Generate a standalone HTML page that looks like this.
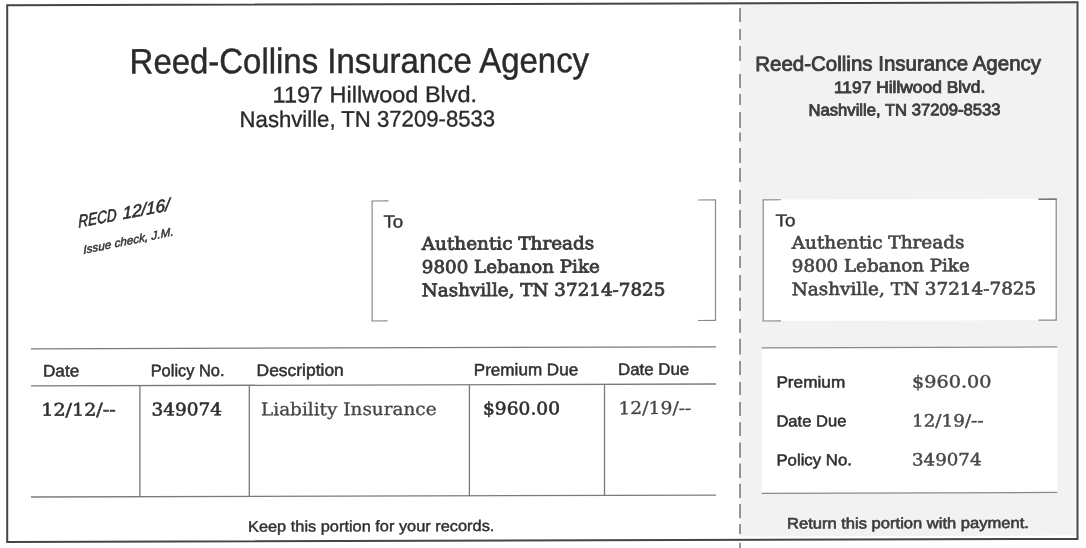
<!DOCTYPE html>
<html lang="en">
<head>
<meta charset="utf-8">
<title>Reed-Collins Insurance Agency - Premium Notice</title>
<style>
html,body{margin:0;padding:0;background:#fff;}
body{width:1086px;height:548px;overflow:hidden;}
svg{display:block;}
text{white-space:pre;}
</style>
</head>
<body>
<svg width="1086" height="548" viewBox="0 0 1086 548">
<rect x="0" y="0" width="1086" height="548" fill="#ffffff"/>
<defs><filter id="scan" x="0" y="0" width="1086" height="548" filterUnits="userSpaceOnUse"><feGaussianBlur stdDeviation="0.45"/></filter></defs>
<g filter="url(#scan)"><g transform="matrix(1 -0.0028 0 1 0 0)">
<rect x="740.0" y="5.27" width="335.5" height="533.3" fill="#f2f2f2"/>
<rect x="763.0" y="201.74" width="293.3" height="121.4" fill="#fff"/>
<rect x="761.7" y="349.73" width="295.6" height="146.0" fill="#fff"/>
<rect x="7.2" y="5.32" width="1070.3" height="536.6" fill="none" stroke="#444" stroke-width="2.0"/>
<text x="129.6" y="73.9" font-family="'Liberation Sans', sans-serif" font-size="35.4" font-weight="normal" fill="#2b2b2b" textLength="459.5" lengthAdjust="spacingAndGlyphs" stroke="#2b2b2b" stroke-width="0.45">Reed-Collins Insurance Agency</text>
<text x="272.6" y="103.3" font-family="'Liberation Sans', sans-serif" font-size="22.6" font-weight="normal" fill="#2b2b2b" textLength="204.5" lengthAdjust="spacingAndGlyphs" stroke="#2b2b2b" stroke-width="0.35">1197 Hillwood Blvd.</text>
<text x="239.6" y="127.7" font-family="'Liberation Sans', sans-serif" font-size="22.6" font-weight="normal" fill="#2b2b2b" textLength="255.6" lengthAdjust="spacingAndGlyphs" stroke="#2b2b2b" stroke-width="0.35">Nashville, TN 37209-8533</text>
<line x1="372.1" y1="202.04" x2="372.1" y2="322.04" stroke="#8a8a8a" stroke-width="1.2"/>
<line x1="371.5" y1="202.04" x2="388.5" y2="202.04" stroke="#8a8a8a" stroke-width="1.2"/>
<line x1="371.5" y1="322.04" x2="387.5" y2="322.04" stroke="#8a8a8a" stroke-width="1.2"/>
<line x1="715.5" y1="202.00" x2="715.5" y2="322.50" stroke="#8a8a8a" stroke-width="1.2"/>
<line x1="698.0" y1="201.95" x2="716.1" y2="201.95" stroke="#8a8a8a" stroke-width="1.2"/>
<line x1="698.0" y1="322.45" x2="716.1" y2="322.45" stroke="#8a8a8a" stroke-width="1.2"/>
<text x="383.4" y="228.5" font-family="'Liberation Sans', sans-serif" font-size="17.4" font-weight="normal" fill="#333" textLength="19.8" lengthAdjust="spacingAndGlyphs" stroke="#333" stroke-width="0.4">To</text>
<text x="421.8" y="250.9" font-family="'DejaVu Serif', 'Liberation Serif', serif" font-size="17.5" font-weight="normal" fill="#3a3a3a" textLength="172.5" lengthAdjust="spacingAndGlyphs" stroke="#3a3a3a" stroke-width="0.8">Authentic Threads</text>
<text x="421.8" y="274.2" font-family="'DejaVu Serif', 'Liberation Serif', serif" font-size="17.5" font-weight="normal" fill="#3a3a3a" textLength="178.0" lengthAdjust="spacingAndGlyphs" stroke="#3a3a3a" stroke-width="0.8">9800 Lebanon Pike</text>
<text x="421.8" y="297.4" font-family="'DejaVu Serif', 'Liberation Serif', serif" font-size="17.5" font-weight="normal" fill="#3a3a3a" textLength="243.6" lengthAdjust="spacingAndGlyphs" stroke="#3a3a3a" stroke-width="0.8">Nashville, TN 37214-7825</text>
<line x1="31.0" y1="348.89" x2="716.0" y2="348.89" stroke="#7a7a7a" stroke-width="1.3"/>
<line x1="31.0" y1="385.99" x2="716.0" y2="385.99" stroke="#7a7a7a" stroke-width="1.3"/>
<line x1="31.0" y1="497.09" x2="716.0" y2="497.09" stroke="#7a7a7a" stroke-width="1.3"/>
<line x1="139.9" y1="386.20" x2="139.9" y2="497.00" stroke="#7a7a7a" stroke-width="1.3"/>
<line x1="249.3" y1="386.20" x2="249.3" y2="497.00" stroke="#7a7a7a" stroke-width="1.3"/>
<line x1="469.4" y1="386.20" x2="469.4" y2="497.00" stroke="#7a7a7a" stroke-width="1.3"/>
<line x1="604.5" y1="386.20" x2="604.5" y2="497.00" stroke="#7a7a7a" stroke-width="1.3"/>
<text x="42.9" y="376.7" font-family="'Liberation Sans', sans-serif" font-size="16.8" font-weight="normal" fill="#303030" textLength="36.4" lengthAdjust="spacingAndGlyphs" stroke="#303030" stroke-width="0.5">Date</text>
<text x="150.7" y="376.7" font-family="'Liberation Sans', sans-serif" font-size="16.8" font-weight="normal" fill="#303030" textLength="73.8" lengthAdjust="spacingAndGlyphs" stroke="#303030" stroke-width="0.5">Policy No.</text>
<text x="256.6" y="376.7" font-family="'Liberation Sans', sans-serif" font-size="16.8" font-weight="normal" fill="#303030" textLength="87.2" lengthAdjust="spacingAndGlyphs" stroke="#303030" stroke-width="0.5">Description</text>
<text x="473.8" y="376.8" font-family="'Liberation Sans', sans-serif" font-size="16.8" font-weight="normal" fill="#303030" textLength="104.4" lengthAdjust="spacingAndGlyphs" stroke="#303030" stroke-width="0.5">Premium Due</text>
<text x="618.0" y="376.7" font-family="'Liberation Sans', sans-serif" font-size="16.8" font-weight="normal" fill="#303030" textLength="71.2" lengthAdjust="spacingAndGlyphs" stroke="#303030" stroke-width="0.5">Date Due</text>
<text x="41.3" y="415.9" font-family="'DejaVu Serif', 'Liberation Serif', serif" font-size="17.5" font-weight="normal" fill="#2e2e2e" textLength="74.4" lengthAdjust="spacingAndGlyphs" stroke="#2e2e2e" stroke-width="0.55">12/12/--</text>
<text x="151.4" y="415.9" font-family="'DejaVu Serif', 'Liberation Serif', serif" font-size="17.5" font-weight="normal" fill="#2e2e2e" textLength="70.6" lengthAdjust="spacingAndGlyphs" stroke="#2e2e2e" stroke-width="0.55">349074</text>
<text x="261.0" y="416.1" font-family="'DejaVu Serif', 'Liberation Serif', serif" font-size="17.5" font-weight="normal" fill="#444" textLength="175.6" lengthAdjust="spacingAndGlyphs" stroke="#444" stroke-width="0.3">Liability Insurance</text>
<text x="483.0" y="415.9" font-family="'DejaVu Serif', 'Liberation Serif', serif" font-size="17.5" font-weight="normal" fill="#2e2e2e" textLength="77.0" lengthAdjust="spacingAndGlyphs" stroke="#2e2e2e" stroke-width="0.55">$960.00</text>
<text x="618.4" y="415.9" font-family="'DejaVu Serif', 'Liberation Serif', serif" font-size="17.5" font-weight="normal" fill="#444" textLength="73.0" lengthAdjust="spacingAndGlyphs" stroke="#444" stroke-width="0.3">12/19/--</text>
<text x="248.0" y="532.4" font-family="'Liberation Sans', sans-serif" font-size="15.4" font-weight="normal" fill="#2e2e2e" textLength="246.4" lengthAdjust="spacingAndGlyphs" stroke="#2e2e2e" stroke-width="0.4">Keep this portion for your records.</text>
<text transform="translate(78.5,227.8) rotate(-10.5) skewX(-9)" font-family="'Liberation Sans', sans-serif" font-style="italic" font-size="17.2" fill="#2e2e2e" stroke="#2e2e2e" stroke-width="0.6"><tspan textLength="39" lengthAdjust="spacingAndGlyphs">RECD</tspan><tspan dx="6" textLength="48" lengthAdjust="spacingAndGlyphs">12/16/</tspan></text>
<text transform="translate(83.5,254.2) rotate(-11.5) skewX(-9)" font-family="'Liberation Sans', sans-serif" font-style="italic" font-size="11.5" fill="#383838" stroke="#383838" stroke-width="0.5" textLength="92" lengthAdjust="spacingAndGlyphs">Issue check, J.M.</text>
<text x="755.3" y="73.0" font-family="'Liberation Sans', sans-serif" font-size="20.6" font-weight="normal" fill="#3c3c3c" textLength="285.7" lengthAdjust="spacingAndGlyphs" stroke="#3c3c3c" stroke-width="0.85">Reed-Collins Insurance Agency</text>
<text x="834.0" y="95.3" font-family="'Liberation Sans', sans-serif" font-size="16.5" font-weight="normal" fill="#3c3c3c" textLength="151.3" lengthAdjust="spacingAndGlyphs" stroke="#3c3c3c" stroke-width="0.85">1197 Hillwood Blvd.</text>
<text x="808.5" y="117.9" font-family="'Liberation Sans', sans-serif" font-size="16.5" font-weight="normal" fill="#3c3c3c" textLength="192.1" lengthAdjust="spacingAndGlyphs" stroke="#3c3c3c" stroke-width="0.85">Nashville, TN 37209-8533</text>
<line x1="763.2" y1="201.94" x2="763.2" y2="323.14" stroke="#8a8a8a" stroke-width="1.2"/>
<line x1="762.6" y1="201.94" x2="781.0" y2="201.94" stroke="#8a8a8a" stroke-width="1.2"/>
<line x1="762.6" y1="323.14" x2="781.0" y2="323.14" stroke="#8a8a8a" stroke-width="1.2"/>
<line x1="1056.2" y1="202.16" x2="1056.2" y2="323.16" stroke="#8a8a8a" stroke-width="1.2"/>
<line x1="1038.4" y1="202.11" x2="1056.8" y2="202.11" stroke="#777" stroke-width="1.6"/>
<line x1="1038.4" y1="323.11" x2="1056.8" y2="323.11" stroke="#8a8a8a" stroke-width="1.2"/>
<text x="775.5" y="228.4" font-family="'Liberation Sans', sans-serif" font-size="17.2" font-weight="normal" fill="#333" textLength="20.0" lengthAdjust="spacingAndGlyphs" stroke="#333" stroke-width="0.4">To</text>
<text x="791.8" y="250.9" font-family="'DejaVu Serif', 'Liberation Serif', serif" font-size="17.5" font-weight="normal" fill="#444" textLength="172.6" lengthAdjust="spacingAndGlyphs" stroke="#444" stroke-width="0.65">Authentic Threads</text>
<text x="791.8" y="274.1" font-family="'DejaVu Serif', 'Liberation Serif', serif" font-size="17.5" font-weight="normal" fill="#444" textLength="177.9" lengthAdjust="spacingAndGlyphs" stroke="#444" stroke-width="0.65">9800 Lebanon Pike</text>
<text x="791.8" y="297.4" font-family="'DejaVu Serif', 'Liberation Serif', serif" font-size="17.5" font-weight="normal" fill="#444" textLength="244.4" lengthAdjust="spacingAndGlyphs" stroke="#444" stroke-width="0.65">Nashville, TN 37214-7825</text>
<line x1="761.7" y1="349.93" x2="1057.3" y2="349.93" stroke="#8a8a8a" stroke-width="1.2"/>
<line x1="761.7" y1="495.43" x2="1057.3" y2="495.43" stroke="#8a8a8a" stroke-width="1.2"/>
<text x="776.4" y="389.8" font-family="'Liberation Sans', sans-serif" font-size="16" font-weight="normal" fill="#2e2e2e" textLength="68.9" lengthAdjust="spacingAndGlyphs" stroke="#2e2e2e" stroke-width="0.5">Premium</text>
<text x="912.0" y="390.2" font-family="'DejaVu Serif', 'Liberation Serif', serif" font-size="16.8" font-weight="normal" fill="#484848" textLength="79.5" lengthAdjust="spacingAndGlyphs" stroke="#484848" stroke-width="0.45">$960.00</text>
<text x="776.4" y="428.7" font-family="'Liberation Sans', sans-serif" font-size="16" font-weight="normal" fill="#2e2e2e" textLength="70.1" lengthAdjust="spacingAndGlyphs" stroke="#2e2e2e" stroke-width="0.5">Date Due</text>
<text x="912.0" y="429.1" font-family="'DejaVu Serif', 'Liberation Serif', serif" font-size="16.8" font-weight="normal" fill="#484848" textLength="71.5" lengthAdjust="spacingAndGlyphs" stroke="#484848" stroke-width="0.45">12/19/--</text>
<text x="776.4" y="467.6" font-family="'Liberation Sans', sans-serif" font-size="16" font-weight="normal" fill="#2e2e2e" textLength="75.5" lengthAdjust="spacingAndGlyphs" stroke="#2e2e2e" stroke-width="0.5">Policy No.</text>
<text x="912.0" y="468.0" font-family="'DejaVu Serif', 'Liberation Serif', serif" font-size="16.8" font-weight="normal" fill="#484848" textLength="69.5" lengthAdjust="spacingAndGlyphs" stroke="#484848" stroke-width="0.45">349074</text>
<text x="787.0" y="530.8" font-family="'Liberation Sans', sans-serif" font-size="15.2" font-weight="normal" fill="#3c3c3c" textLength="241.9" lengthAdjust="spacingAndGlyphs" stroke="#3c3c3c" stroke-width="0.6">Return this portion with payment.</text>
<path d="M740 10.1V24.1 M740 31.1V42.1 M740 48.1V63.1 M740 76.1V90.1 M740 96.1V107.1 M740 114.1V130.1 M740 134.6V143.6 M740 150.1V165.1 M740 170.1V184.1 M740 192.1V206.1 M740 212.1V230.1 M740 237.1V252.1 M740 258.1V270.1 M740 277.1V292.7 M740 299.9V313.1 M740 321.1V334.9 M740 340.8V356.6 M740 363.1V377.1 M740 384.1V397.1 M740 404.1V418.1 M740 424.4V438.1 M740 444.6V459.8 M740 465.6V480.1 M740 485.8V500.1 M740 506.0V520.4 M740 526.1V536.1 M740 544.9V554.1" stroke="#5a5a5a" stroke-width="1.25" fill="none"/>
</g></g>
</svg>
</body>
</html>
